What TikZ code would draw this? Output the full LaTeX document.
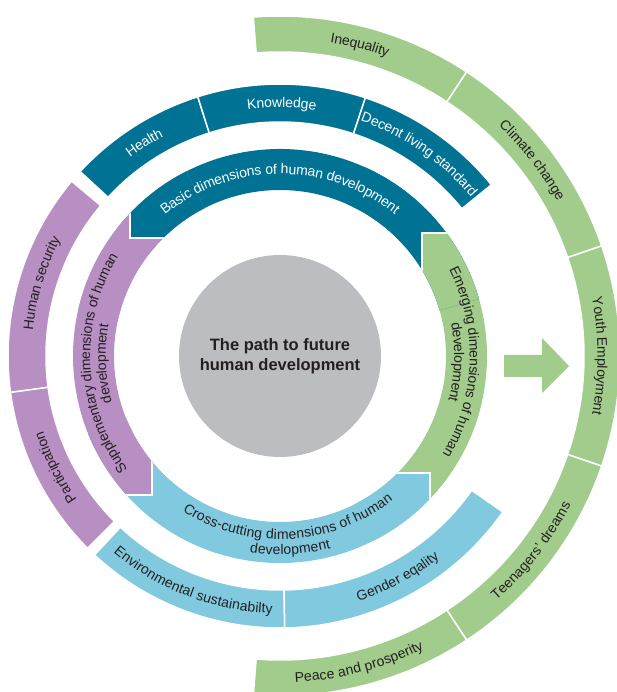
\documentclass[tikz,border=0pt]{standalone}
\usepackage{fontspec}
\setmainfont{Liberation Sans}
\usetikzlibrary{decorations.text}
\definecolor{hdteal}{RGB}{0,115,148}
\definecolor{hdgreen}{RGB}{161,204,139}
\definecolor{hdpurple}{RGB}{184,143,194}
\definecolor{hdblue}{RGB}{129,201,223}
\definecolor{hdgray}{RGB}{188,189,192}
\definecolor{hdtext}{RGB}{35,31,32}
\newcommand{\ringfont}{\fontsize{14}{16}\selectfont}
\begin{document}
\begin{tikzpicture}[x=1pt, y=1pt,
  band/.style={draw=white, line width=1.5pt},
  joint/.style={draw=white, line width=1.5pt},
  lbl/.style={decorate, decoration={text along path, text align=center, raise=-4.5pt}}]
\useasboundingbox (-280,-336) rectangle (337,356);
\clip (-280,-336) rectangle (337,356);
\path[band, fill=hdgreen] (94.5:340) arc[start angle=94.5, end angle=56.7, radius=340] -- (56.7:304) arc[start angle=56.7, end angle=94.5, radius=304] -- cycle;
\path[band, fill=hdgreen] (56.7:340) arc[start angle=56.7, end angle=18.9, radius=340] -- (18.9:304) arc[start angle=18.9, end angle=56.7, radius=304] -- cycle;
\path[band, fill=hdgreen] (18.9:340) arc[start angle=18.9, end angle=-18.9, radius=340] -- (-18.9:304) arc[start angle=-18.9, end angle=18.9, radius=304] -- cycle;
\path[band, fill=hdgreen] (-18.9:340) arc[start angle=-18.9, end angle=-56.7, radius=340] -- (-56.7:304) arc[start angle=-56.7, end angle=-18.9, radius=304] -- cycle;
\path[band, fill=hdgreen] (-56.7:340) arc[start angle=-56.7, end angle=-94.5, radius=340] -- (-94.5:304) arc[start angle=-94.5, end angle=-56.7, radius=304] -- cycle;
\path[band, fill=hdteal] (137.3:272) arc[start angle=137.3, end angle=107.6, radius=272] -- (107.6:234) arc[start angle=107.6, end angle=137.3, radius=234] -- cycle;
\path[band, fill=hdteal] (107.6:272) arc[start angle=107.6, end angle=71.7, radius=272] -- (71.7:234) arc[start angle=71.7, end angle=107.6, radius=234] -- cycle;
\path[band, fill=hdteal] (71.7:272) arc[start angle=71.7, end angle=39, radius=272] -- (39:234) arc[start angle=39, end angle=71.7, radius=234] -- cycle;
\path[band, fill=hdpurple] (187.7:272) arc[start angle=187.7, end angle=140, radius=272] -- (140:234) arc[start angle=140, end angle=187.7, radius=234] -- cycle;
\path[band, fill=hdpurple] (225:272) arc[start angle=225, end angle=187.7, radius=272] -- (187.7:234) arc[start angle=187.7, end angle=225, radius=234] -- cycle;
\path[band, fill=hdblue] (227:272) arc[start angle=227, end angle=271, radius=272] -- (271:234) arc[start angle=271, end angle=227, radius=234] -- cycle;
\path[band, fill=hdblue] (271:272) arc[start angle=271, end angle=325, radius=272] -- (325:234) arc[start angle=325, end angle=271, radius=234] -- cycle;
\fill[hdgreen] (-38:207) arc[start angle=-38, end angle=41, radius=207] -- (41:166) arc[start angle=41, end angle=-38, radius=166] -- cycle;
\fill[hdteal] (41:207) arc[start angle=41, end angle=142, radius=207] -- (142:166) arc[start angle=142, end angle=41, radius=166] -- cycle;
\fill[hdpurple] (142:207) arc[start angle=142, end angle=227, radius=207] -- (227:166) arc[start angle=227, end angle=142, radius=166] -- cycle;
\fill[hdblue] (227:207) arc[start angle=227, end angle=322, radius=207] -- (322:166) arc[start angle=322, end angle=227, radius=166] -- cycle;
\begin{scope}
\clip (16:207) arc[start angle=16, end angle=66, radius=207] -- (66:166) arc[start angle=66, end angle=16, radius=166] -- cycle;
\fill[hdteal] (-400,-400) rectangle (400,400);
\fill[hdgreen] (142,123) rectangle (400,-400);
\draw[joint] (142,-400) -- (142,123) -- (400,123);
\end{scope}
\begin{scope}
\clip (117:207) arc[start angle=117, end angle=167, radius=207] -- (167:166) arc[start angle=167, end angle=117, radius=166] -- cycle;
\fill[hdpurple] (-400,-400) rectangle (400,400);
\fill[hdteal] (-150,118) rectangle (400,400);
\draw[joint] (-150,400) -- (-150,118) -- (400,118);
\end{scope}
\begin{scope}
\clip (202:207) arc[start angle=202, end angle=252, radius=207] -- (252:166) arc[start angle=252, end angle=202, radius=166] -- cycle;
\fill[hdblue] (-400,-400) rectangle (400,400);
\fill[hdpurple] (-128,-139) rectangle (-400,400);
\draw[joint] (-128,400) -- (-128,-139) -- (-400,-139);
\end{scope}
\begin{scope}
\clip (297:207) arc[start angle=297, end angle=347, radius=207] -- (347:166) arc[start angle=347, end angle=297, radius=166] -- cycle;
\fill[hdgreen] (-400,-400) rectangle (400,400);
\fill[hdblue] (150,-117) rectangle (-400,-400);
\draw[joint] (150,-400) -- (150,-117) -- (-400,-117);
\end{scope}
\fill[hdgreen] (224,-21) -- (262,-21) -- (262,-37) -- (289,-10) -- (262,18) -- (262,1) -- (224,1) -- cycle;
\node[shape=circle, fill=hdgray, minimum size=202pt, inner sep=0pt] (core) at (0,0) {};
\node[font=\bfseries\fontsize{16.5}{20}\selectfont, align=center, text=hdtext] (title) at (core.center) {The path to future\\human development};
\path[lbl, decoration={text={|\ringfont\color{hdtext}|Inequality}}] (100.6:322) arc[start angle=100.6, end angle=50.6, radius=322];
\path[lbl, decoration={text={|\ringfont\color{hdtext}|Climate change}}] (62.8:322) arc[start angle=62.8, end angle=12.8, radius=322];
\path[lbl, decoration={text={|\ringfont\color{hdtext}|Youth Employment}}] (25:322) arc[start angle=25, end angle=-25, radius=322];
\path[lbl, decoration={text={|\ringfont\color{hdtext}|Teenagers’ dreams}}] (-62.8:322) arc[start angle=-62.8, end angle=-12.8, radius=322];
\path[lbl, decoration={text={|\ringfont\color{hdtext}|Peace and prosperity}}] (-100.6:322) arc[start angle=-100.6, end angle=-50.6, radius=322];
\path[lbl, decoration={text={|\ringfont\color{white}|Health}}] (147.5:253) arc[start angle=147.5, end angle=97.5, radius=253];
\path[lbl, decoration={text={|\ringfont\color{white}|Knowledge}}] (114.6:253) arc[start angle=114.6, end angle=64.6, radius=253];
\path[lbl, decoration={text={|\ringfont\color{white}|Decent living standard}}] (80.4:253) arc[start angle=80.4, end angle=30.4, radius=253];
\path[lbl, decoration={text={|\ringfont\color{hdtext}|Human security}}] (188:253) arc[start angle=188, end angle=138, radius=253];
\path[lbl, decoration={text={|\ringfont\color{hdtext}|Participation}}] (231.4:253) arc[start angle=231.4, end angle=181.4, radius=253];
\path[lbl, decoration={text={|\ringfont\color{hdtext}|Environmental sustainabilty}}] (224:253) arc[start angle=224, end angle=274, radius=253];
\path[lbl, decoration={text={|\ringfont\color{hdtext}|Gender eqality}}] (273:253) arc[start angle=273, end angle=323, radius=253];
\path[lbl, decoration={text={|\ringfont\color{white}|Basic dimensions of human development}}] (145:186.5) arc[start angle=145, end angle=35, radius=186.5];
\path[lbl, decoration={text={|\ringfont\color{hdtext}|Emerging dimensions of human}}] (48:194.25) arc[start angle=48, end angle=-52, radius=194.25];
\path[lbl, decoration={text={|\ringfont\color{hdtext}|development}}] (48:178.75) arc[start angle=48, end angle=-52, radius=178.75];
\path[lbl, decoration={text={|\ringfont\color{hdtext}|Supplementary dimensions of human}}] (232.5:194.25) arc[start angle=232.5, end angle=132.5, radius=194.25];
\path[lbl, decoration={text={|\ringfont\color{hdtext}|development}}] (232.5:178.75) arc[start angle=232.5, end angle=132.5, radius=178.75];
\path[lbl, decoration={text={|\ringfont\color{hdtext}|Cross-cutting dimensions of human}}] (223:178.75) arc[start angle=223, end angle=323, radius=178.75];
\path[lbl, decoration={text={|\ringfont\color{hdtext}|development}}] (223:194.25) arc[start angle=223, end angle=323, radius=194.25];
\end{tikzpicture}
\end{document}
